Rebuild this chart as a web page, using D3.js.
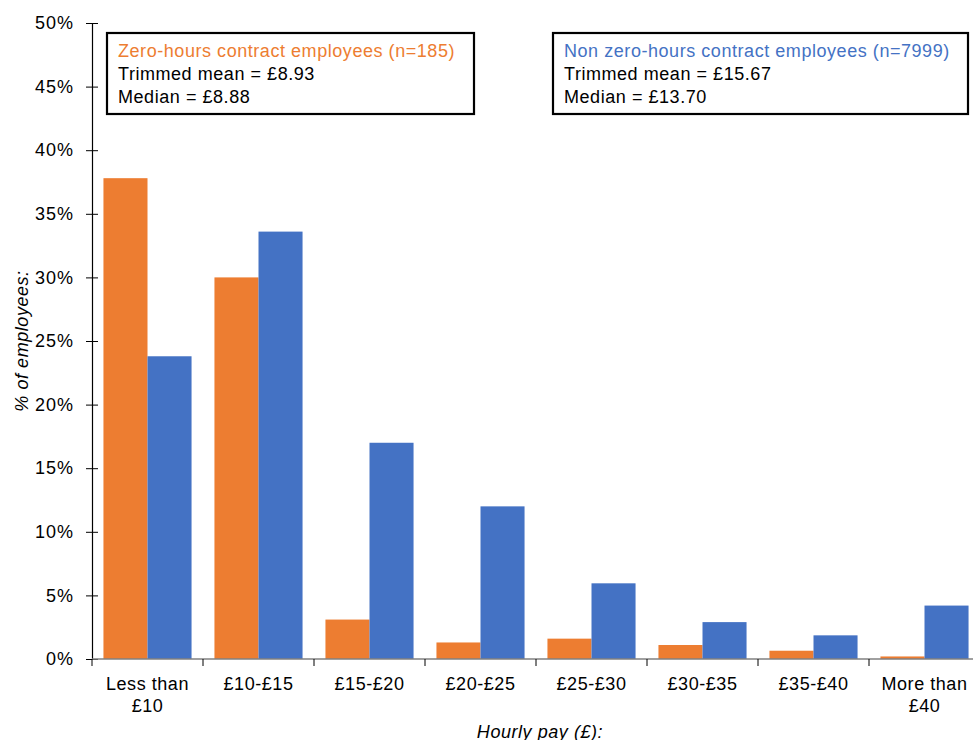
<!DOCTYPE html>
<html lang="en">
	<head>
		<meta charset="utf-8">
		<title>Hourly pay: zero-hours vs non zero-hours contracts</title>
		<script type="text/javascript" src="https://cdn.jsdelivr.net/npm/d3@7"></script>
		<style type="text/css">
			body { margin: 0; background: white; }
			text { font-family: "Liberation Sans", Arial, sans-serif; fill: #000; }
		</style>
	</head>
	<body>
		<script type="text/javascript">

			// Data
			var categories = [["Less than", "£10"], ["£10-£15"], ["£15-£20"], ["£20-£25"],
							  ["£25-£30"], ["£30-£35"], ["£35-£40"], ["More than", "£40"]];
			var seriesNames = ["Zero-hours", "Non zero-hours"];
			var zeroHours = [37.8, 30.0, 3.1, 1.3, 1.6, 1.1, 0.65, 0.2];
			var nonZeroHours = [23.8, 33.6, 17.0, 12.0, 5.95, 2.9, 1.86, 4.2];
			var yTicks = [0, 5, 10, 15, 20, 25, 30, 35, 40, 45, 50];
			var boxLines = [
				["Zero-hours contract employees (n=185)", "Trimmed mean = £8.93", "Median = £8.88"],
				["Non zero-hours contract employees (n=7999)", "Trimmed mean = £15.67", "Median = £13.70"]
			];
			var colors = ["#ED7D31", "#4472C4"];

			//Width and height
			var w = 973;
			var h = 740;
			var mLeft = 92, mRight = 980, mTop = 23, mBottom = 659;
			var fontSize = "18px";
			var spacing = "0.55px";

			var svg = d3.select("body")
						.append("svg")
						.attr("width", w)
						.attr("height", h);

			var x0 = d3.scaleBand()
						.domain(d3.range(categories.length))
						.range([mLeft, mRight])
						.padding(0);

			var x1 = d3.scaleBand()
						.domain(seriesNames)
						.range([0, x0.bandwidth()])
						.paddingInner(0)
						.paddingOuter(0.26);

			var y = d3.scaleLinear()
						.domain([0, 50])
						.range([mBottom, mTop]);

			//Bars
			var groups = svg.selectAll("g.cat")
				.data(categories.map(function(c, i) { return [zeroHours[i], nonZeroHours[i]]; }))
				.enter()
				.append("g")
				.attr("class", "cat")
				.attr("transform", function(d, i) { return "translate(" + x0(i) + ",0)"; });

			groups.selectAll("rect")
				.data(function(d) { return d; })
				.enter()
				.append("rect")
				.attr("x", function(d, j) { return x1(seriesNames[j]); })
				.attr("y", function(d) { return y(d); })
				.attr("width", x1.bandwidth())
				.attr("height", function(d) { return mBottom - y(d); })
				.attr("fill", function(d, j) { return colors[j]; });

			//Y axis
			var yAxis = d3.axisLeft(y)
						.tickValues(yTicks)
						.tickFormat(function(d) { return d + "%"; })
						.tickSizeInner(6)
						.tickSizeOuter(0)
						.tickPadding(12);

			var yG = svg.append("g")
				.attr("transform", "translate(" + mLeft + ",0)")
				.call(yAxis);
			yG.select(".domain").attr("stroke", "#000").attr("stroke-width", 1.2);
			yG.selectAll(".tick line").attr("x1", -6).attr("x2", 6).attr("stroke", "#000");
			yG.selectAll(".tick text")
				.attr("font-size", fontSize)
				.attr("letter-spacing", "1px")
				.style("font-family", "'Liberation Sans', Arial, sans-serif")
				.attr("fill", "#000");

			//X axis (boundary ticks)
			var xAxisG = svg.append("g");
			xAxisG.append("line")
				.attr("x1", mLeft).attr("x2", mRight)
				.attr("y1", mBottom).attr("y2", mBottom)
				.attr("stroke", "#808080").attr("stroke-width", 1.5);
			xAxisG.selectAll("line.tk")
				.data(d3.range(categories.length))
				.enter()
				.append("line")
				.attr("class", "tk")
				.attr("x1", function(i) { return x0(i); })
				.attr("x2", function(i) { return x0(i); })
				.attr("y1", mBottom).attr("y2", mBottom + 7)
				.attr("stroke", "#000");

			//Category labels
			var labels = svg.selectAll("text.cat")
				.data(categories)
				.enter()
				.append("text")
				.attr("class", "cat")
				.attr("text-anchor", "middle")
				.attr("font-size", fontSize)
				.attr("letter-spacing", spacing)
				.attr("x", function(d, i) { return x0(i) + x0.bandwidth() / 2; })
				.attr("y", 690);
			labels.selectAll("tspan")
				.data(function(d) { return d; })
				.enter()
				.append("tspan")
				.attr("x", function() { return d3.select(this.parentNode).attr("x"); })
				.attr("dy", function(d, j) { return j === 0 ? 0 : 22; })
				.text(function(d) { return d; });

			//Axis titles
			svg.append("text")
				.attr("text-anchor", "middle")
				.attr("font-size", fontSize)
				.attr("letter-spacing", spacing)
				.attr("font-style", "italic")
				.attr("transform", "translate(28," + ((mTop + mBottom) / 2) + ") rotate(-90)")
				.text("% of employees:");

			svg.append("text")
				.attr("text-anchor", "middle")
				.attr("font-size", fontSize)
				.attr("letter-spacing", spacing)
				.attr("font-style", "italic")
				.attr("x", 540)
				.attr("y", 738)
				.text("Hourly pay (£):");

			//Info boxes
			var boxes = [{ x: 107, w: 367 }, { x: 553, w: 415 }];
			boxes.forEach(function(b, k) {
				var g = svg.append("g");
				g.append("rect")
					.attr("x", b.x).attr("y", 33)
					.attr("width", b.w).attr("height", 81)
					.attr("fill", "white")
					.attr("stroke", "#000").attr("stroke-width", 2.2);
				g.selectAll("text")
					.data(boxLines[k])
					.enter()
					.append("text")
					.attr("x", b.x + 11)
					.attr("y", function(d, j) { return 57 + j * 23; })
					.attr("font-size", fontSize)
					.attr("letter-spacing", spacing)
					.style("fill", function(d, j) { return j === 0 ? colors[k] : "#000"; })
					.text(function(d) { return d; });
			});

		</script>
	</body>
</html>
